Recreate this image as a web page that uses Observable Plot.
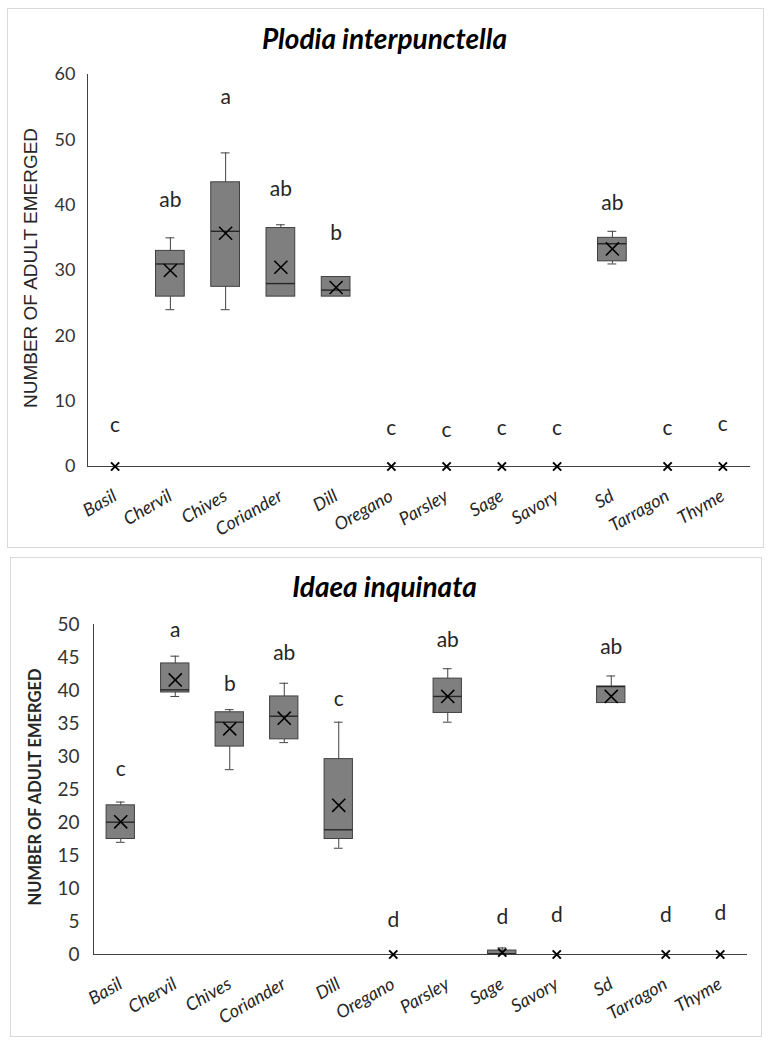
<!DOCTYPE html>
<html>
<head>
<meta charset="utf-8">
<script src="https://cdn.jsdelivr.net/npm/d3@7"></script>
<script src="https://cdn.jsdelivr.net/npm/@observablehq/plot@0.6"></script>
<style>
  body { margin: 0; background: #fff; }
  #page { position: relative; width: 769px; height: 1043px; overflow: hidden; font-family: Lato, "Open Sans", sans-serif; }
  .panel { position: absolute; border: 1px solid #d9d9d9; box-sizing: border-box; }
  .title { position: absolute; left: 0; width: 769px; text-align: center; font-weight: bold; font-style: italic; font-size: 28px; color: #000; line-height: 1; transform: translateY(-50%); font-family: Lato, "Open Sans", sans-serif; }
  .ylab { position: absolute; white-space: nowrap; transform: translate(-50%, -50%) rotate(-90deg); line-height: 1; color: #262626; }
  .chart { position: absolute; left: 0; }
  .chart svg { overflow: visible; }
  .chart [aria-label="x-axis tick label"] text { font-style: italic; }
</style>
</head>
<body>
<div id="page">
  <div class="panel" style="left:7px;top:8px;width:757px;height:540px;"></div>
  <div class="panel" style="left:10px;top:557px;width:752px;height:480px;"></div>
  <div class="title" style="top:38px;">Plodia interpunctella</div>
  <div class="title" style="top:586px;">Idaea inquinata</div>
  <div class="ylab" style="left:30px;top:268px;font-family:'Liberation Sans',Arial,sans-serif;font-size:19px;">NUMBER OF ADULT EMERGED</div>
  <div class="ylab" style="left:35px;top:787px;font-family:Lato,sans-serif;font-size:16.5px;font-weight:bold;">NUMBER OF ADULT EMERGED</div>
  <div class="chart" id="top" style="top:0px;"></div>
  <div class="chart" id="bottom" style="top:557px;"></div>
</div>
<script>
const categories = ["Basil","Chervil","Chives","Coriander","Dill","Oregano","Parsley","Sage","Savory","Sd","Tarragon","Thyme"];

// Plodia interpunctella
const plodiaMin     = [0, 24, 24, 26, 26, 0, 0, 0, 0, 31, 0, 0];
const plodiaQ1      = [0, 26, 27.5, 26, 26, 0, 0, 0, 0, 31.4, 0, 0];
const plodiaMedian  = [0, 31, 36, 28, 27, 0, 0, 0, 0, 34.1, 0, 0];
const plodiaQ3      = [0, 33, 43.5, 36.5, 29, 0, 0, 0, 0, 35, 0, 0];
const plodiaMax     = [0, 35, 48, 37, 29, 0, 0, 0, 0, 36, 0, 0];
const plodiaMean    = [0, 30, 35.7, 30.5, 27.4, 0, 0, 0, 0, 33.3, 0, 0];
const plodiaLetters = ["c","ab","a","ab","b","c","c","c","c","ab","c","c"];
const plodiaLetterY = [6.3, 40.8, 56.5, 42.5, 35.7, 5.8, 5.5, 5.9, 5.9, 40.3, 5.9, 6.5];
const plodiaTicks   = [0, 10, 20, 30, 40, 50, 60];

// Idaea inquinata
const idaeaMin     = [17, 39.1, 28, 32.1, 16.1, 0, 35.2, 0, 0, 38.1, 0, 0];
const idaeaQ1      = [17.5, 39.7, 31.5, 32.6, 17.5, 0, 36.6, 0, 0, 38.1, 0, 0];
const idaeaMedian  = [20.05, 40.1, 35.2, 36.1, 18.9, 0, 39.1, 0.1, 0, 40.6, 0, 0];
const idaeaQ3      = [22.6, 44.1, 36.7, 39.1, 29.6, 0, 41.8, 0.6, 0, 40.6, 0, 0];
const idaeaMax     = [23.1, 45.2, 37.1, 41.1, 35.2, 0, 43.3, 1.0, 0, 42.2, 0, 0];
const idaeaMean    = [20.1, 41.6, 34.2, 35.8, 22.6, 0, 39.1, 0.3, 0, 39.1, 0, 0];
const idaeaLetters = ["c","a","b","ab","c","d","ab","d","d","ab","d","d"];
const idaeaLetterY = [28.1, 49.1, 41, 45.6, 38.7, 5.2, 47.6, 5.6, 5.9, 46.6, 5.9, 6.3];
const idaeaTicks   = [0, 5, 10, 15, 20, 25, 30, 35, 40, 45, 50];

function rows(mn, q1, med, q3, mx, mean, letters, ly) {
  return categories.map((c, i) => ({
    i, cat: c, min: mn[i], q1: q1[i], median: med[i], q3: q3[i], max: mx[i],
    mean: mean[i], letter: letters[i], ly: ly[i]
  }));
}

function chart(data, opts) {
  const boxes = data.filter(d => d.max > 0);
  const hw = 0.26, cw = 0.08;
  return Plot.plot({
    width: 769,
    height: opts.height,
    marginLeft: opts.ml,
    marginRight: opts.mr,
    marginTop: opts.mt,
    marginBottom: opts.mb,
    style: { background: "transparent", fontFamily: "Lato, 'Open Sans', sans-serif", color: "#262626" },
    x: { type: "linear", domain: [-0.5, categories.length - 0.5] },
    y: { domain: [0, opts.ymax] },
    marks: [
      Plot.axisY({ ticks: opts.ticks, tickSize: 0, tickPadding: opts.tp, fontSize: opts.yfs, label: null, fill: "#333" }),
      Plot.axisX({ ticks: d3.range(categories.length), tickFormat: i => categories[i], tickSize: 0,
                   tickRotate: -30, tickPadding: opts.xtp, fontSize: 18, label: null, fill: "#262626" }),
      Plot.ruleX([-0.5], { y1: 0, y2: opts.ymax, stroke: "#404040", strokeWidth: 1 }),
      // whiskers
      Plot.ruleX(boxes, { x: "i", y1: "min", y2: "q1", stroke: "#404040" }),
      Plot.ruleX(boxes, { x: "i", y1: "q3", y2: "max", stroke: "#404040" }),
      Plot.ruleY(boxes.filter(d => d.max > d.q3), { x1: d => d.i - cw, x2: d => d.i + cw, y: "max", stroke: "#404040" }),
      Plot.ruleY(boxes.filter(d => d.min < d.q1), { x1: d => d.i - cw, x2: d => d.i + cw, y: "min", stroke: "#404040" }),
      // boxes
      Plot.rect(boxes, { x1: d => d.i - hw, x2: d => d.i + hw, y1: "q1", y2: "q3", fill: "#7f7f7f", stroke: "#404040", strokeWidth: 1 }),
      Plot.ruleY(boxes, { x1: d => d.i - hw, x2: d => d.i + hw, y: "median", stroke: "#262626", strokeWidth: 1.4 }),
      Plot.ruleY([0], { stroke: "#404040", strokeWidth: 1.2 }),
      // means
      Plot.dot(data.filter(d => d.mean > 1), { x: "i", y: "mean", symbol: "times", r: 6, stroke: "#000", strokeWidth: 1.6 }),
      Plot.dot(data.filter(d => d.mean <= 1), { x: "i", y: "mean", symbol: "times", r: 3.8, stroke: "#000", strokeWidth: 2 }),
      // letters
      Plot.text(data, { x: "i", y: "ly", text: "letter", fontSize: 21, fill: "#262626" })
    ]
  });
}

const plodia = rows(plodiaMin, plodiaQ1, plodiaMedian, plodiaQ3, plodiaMax, plodiaMean, plodiaLetters, plodiaLetterY);
const idaea = rows(idaeaMin, idaeaQ1, idaeaMedian, idaeaQ3, idaeaMax, idaeaMean, idaeaLetters, idaeaLetterY);

document.getElementById("top").append(chart(plodia, {
  height: 548, ml: 87, mr: 19, mt: 74, mb: 82, ymax: 60, ticks: plodiaTicks, tp: 12, yfs: 18, xtp: 28
}));
document.getElementById("bottom").append(chart(idaea, {
  height: 486, ml: 93, mr: 22, mt: 67, mb: 89, ymax: 50, ticks: idaeaTicks, tp: 14, yfs: 19, xtp: 28
}));
</script>
</body>
</html>
